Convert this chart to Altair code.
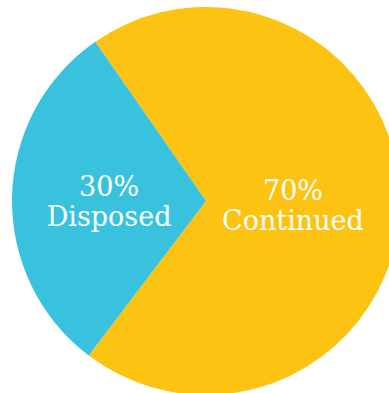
import altair as alt
import pandas as pd
import math

categories = ["Continued", "Disposed"]
values = [70, 30]
pct_labels = ["70%", "30%"]
colors = ["#FDC313", "#39C2DE"]

df = pd.DataFrame({
    "category": categories,
    "value": values,
    "order": [0, 1],
    "label": [[p, c] for p, c in zip(pct_labels, categories)],
})

start = math.radians(-34.8)
theta_scale = alt.Scale(range=[start, start + 2 * math.pi])

base = alt.Chart(df).encode(
    theta=alt.Theta("value:Q", stack=True, scale=theta_scale),
    order=alt.Order("order:Q"),
    x=alt.value(206),
    y=alt.value(201),
)

arcs = base.mark_arc(radius=194, stroke=None).encode(
    color=alt.Color("category:N", scale=alt.Scale(domain=categories, range=colors), legend=None)
)

texts = base.mark_text(
    radius=92, dx=-5, dy=-11, font="DejaVu Serif", fontSize=27, color="white",
    align="center", baseline="middle", lineHeight=30
).encode(text="label")

chart = alt.layer(arcs, texts).properties(
    width=389, height=393, padding=0, autosize="none"
).configure_view(stroke=None)

chart.save("out.html", embed_options={"renderer": "svg", "actions": False})
